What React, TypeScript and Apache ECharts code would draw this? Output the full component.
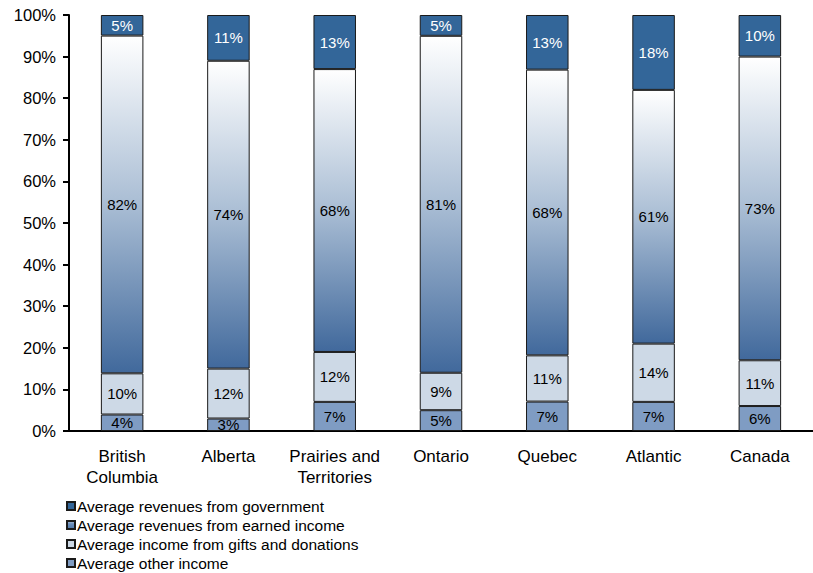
import React, { useEffect, useRef } from "react";
import * as echarts from "echarts";

const categories = ["British\nColumbia", "Alberta", "Prairies and\nTerritories", "Ontario", "Quebec", "Atlantic", "Canada"];
const otherIncome = [4, 3, 7, 5, 7, 7, 6];
const giftsDonations = [10, 12, 12, 9, 11, 14, 11];
const earnedIncome = [82, 74, 68, 81, 68, 61, 73];
const government = [5, 11, 13, 5, 13, 18, 10];
const yTicks = [0, 10, 20, 30, 40, 50, 60, 70, 80, 90, 100];

const FONT = 'Arial, "Liberation Sans", Helvetica, sans-serif';

export default function App() {
  const ref = useRef<HTMLDivElement>(null);
  useEffect(() => {
    document.body.style.margin = "0";
    if (!ref.current) return;
    const chart = echarts.init(ref.current, null, { renderer: "svg" });
    const totals = categories.map(
      (_, i) => otherIncome[i] + giftsDonations[i] + earnedIncome[i] + government[i]
    );
    const norm = (arr: number[]) =>
      arr.map((v, i) => ({ value: (v / totals[i]) * 100, raw: v }));
    const border = { borderColor: "#1a1a1a", borderWidth: 1 };
    const mk = (name: string, arr: number[], color: any, labelColor: string) => ({
      name,
      type: "bar",
      stack: "total",
      barWidth: "40%",
      data: norm(arr),
      itemStyle: { color, ...border },
      label: {
        show: true,
        position: "inside",
        color: labelColor,
        fontFamily: FONT,
        fontSize: 15,
        formatter: (p: any) => `${p.data.raw}%`,
      },
    });
    const earnedGrad = new echarts.graphic.LinearGradient(0, 0, 0, 1, [
      { offset: 0, color: "#ffffff" },
      { offset: 0.5, color: "#a9bdd4" },
      { offset: 1, color: "#41699c" },
    ]);
    const iconGrad = new echarts.graphic.LinearGradient(0, 0, 0, 1, [
      { offset: 0, color: "#b8c9dc" },
      { offset: 0.35, color: "#6b8fbc" },
      { offset: 1, color: "#4f78a8" },
    ]);
    chart.setOption({
      animation: false,
      grid: { left: 69, top: 15, width: 752, height: 416, containLabel: false },
      legend: {
        orient: "vertical",
        left: 66,
        top: 498,
        padding: 0,
        height: 75,
        itemWidth: 8,
        itemHeight: 8,
        itemGap: 3,
        icon: "rect",
        textStyle: { fontFamily: FONT, fontSize: 15.5, lineHeight: 16, color: "#000", padding: [0, 0, 0, -3] },
        data: [
          { name: "Average revenues from government" },
          { name: "Average revenues from earned income", itemStyle: { color: iconGrad } },
          { name: "Average income from gifts and donations" },
          { name: "Average other income" },
        ],
      },
      xAxis: {
        type: "category",
        data: categories,
        axisLine: { lineStyle: { color: "#000", width: 2 } },
        axisTick: { length: 6, lineStyle: { color: "#000", width: 2 } },
        axisLabel: {
          color: "#000",
          fontFamily: FONT,
          fontSize: 17,
          lineHeight: 21,
          margin: 15,
          interval: 0,
        },
      },
      yAxis: {
        type: "value",
        min: 0,
        max: 100,
        interval: 10,
        splitLine: { show: false },
        axisLine: { show: true, lineStyle: { color: "#000", width: 2 } },
        axisTick: { show: true, length: 6, lineStyle: { color: "#000", width: 2 } },
        axisLabel: {
          color: "#000",
          fontFamily: FONT,
          fontSize: 16.5,
          margin: 13,
          formatter: (v: number) => (yTicks.includes(v) ? `${v}%` : ""),
        },
      },
      series: [
        mk("Average other income", otherIncome, "#7f9cc3", "#000"),
        mk("Average income from gifts and donations", giftsDonations, "#cdd9e6", "#000"),
        mk("Average revenues from earned income", earnedIncome, earnedGrad, "#000"),
        mk("Average revenues from government", government, "#336699", "#fff"),
      ],
    });
    return () => chart.dispose();
  }, []);
  return <div ref={ref} style={{ width: 813, height: 573 }} />;
}
